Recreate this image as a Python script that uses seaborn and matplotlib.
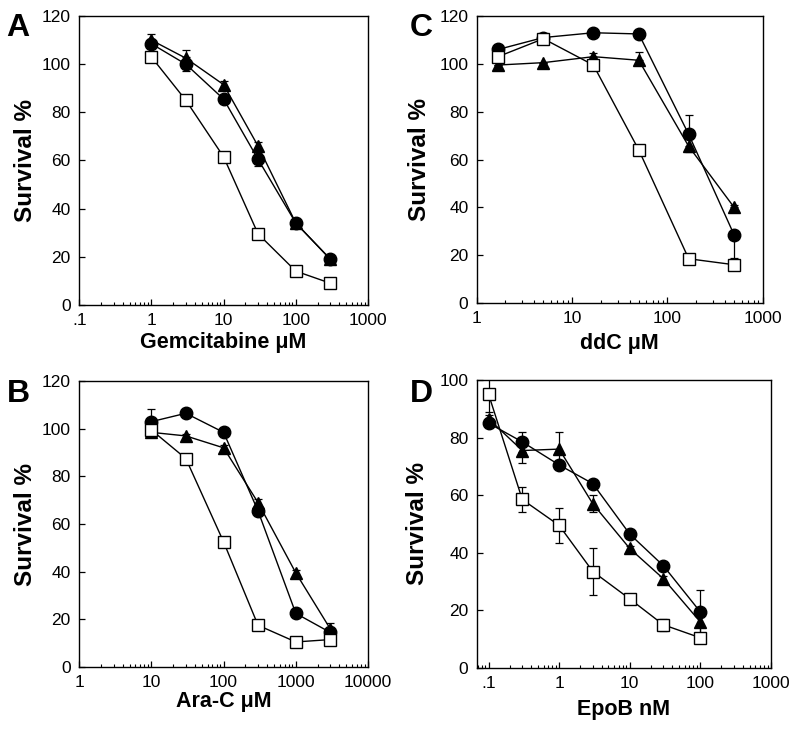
import numpy as np
import pandas as pd
import matplotlib
matplotlib.use("Agg")
import matplotlib.pyplot as plt
from matplotlib.ticker import FixedLocator, FixedFormatter, LogLocator, NullFormatter
import seaborn as sns

# ---- data ----
A_x = [1, 3, 10, 30, 100, 300]
A_sq = [103, 85, 61.5, 29.5, 14, 9]
A_ci = [108.5, 100, 85.5, 60.5, 34, 19]
A_tr = [110, 102.5, 91.5, 66, 34, 19]
A_sq_err = [1, 1, 1, 1, 1, 1]
A_ci_err = [1.5, 3, 1.5, 3, 1, 1]
A_tr_err = [2.5, 3.5, 1.5, 1.5, 1, 1]

B_x = [10, 30, 100, 300, 1000, 3000]
B_sq = [99.5, 87.5, 52.5, 17.5, 10.5, 11.5]
B_ci = [103, 106.5, 98.5, 65.5, 22.5, 14.5]
B_tr = [98.5, 97, 92, 69, 39.5, 16]
B_sq_err = [1, 1, 1, 1, 1, 2]
B_ci_err = [5.5, 1.5, 1, 1, 1, 1.5]
B_tr_err = [1, 1, 1, 1.5, 1, 2.5]

C_x = [1.67, 5, 16.7, 50, 167, 500]
C_sq = [103, 110.5, 99.5, 64, 18.5, 16]
C_ci = [106, 111, 113, 112.5, 70.5, 28.5]
C_tr = [99.5, 100.5, 103, 101.5, 65.5, 40]
C_sq_err = ([0, 0, 2, 0, 0, 0], [0, 0, 0, 0, 0, 0])
C_ci_err = ([0, 0, 0, 0, 0, 9.5], [2, 1, 1, 1, 8, 0])
C_tr_err = ([0, 0, 0, 0, 2.5, 0], [0, 0, 1.5, 3.5, 0, 1])

D_x = [0.1, 0.3, 1, 3, 10, 30, 100]
D_sq = [95, 58.5, 49.5, 33.5, 24, 15, 10.5]
D_ci = [85, 78.5, 70.5, 64, 46.5, 35.5, 19.5]
D_tr = [86.5, 75.5, 76, 57, 41.5, 31, 16]
D_sq_err = [6, 4.5, 6, 8, 1.5, 2, 1.5]
D_ci_err = [1.5, 3.5, 1, 1, 1, 1, 7.5]
D_tr_err = [1.5, 4.5, 6, 3, 1, 1, 4]

A_xticks = [0.1, 1, 10, 100, 1000]
A_xlabels = [".1", "1", "10", "100", "1000"]
B_xticks = [1, 10, 100, 1000, 10000]
B_xlabels = ["1", "10", "100", "1000", "10000"]
C_xticks = [1, 10, 100, 1000]
C_xlabels = ["1", "10", "100", "1000"]
D_xticks = [0.1, 1, 10, 100, 1000]
D_xlabels = [".1", "1", "10", "100", "1000"]

sns.set_style("ticks")
plt.rcParams["font.family"] = ["Liberation Sans", "DejaVu Sans"]
plt.rcParams["text.color"] = "black"
plt.rcParams["axes.labelcolor"] = "black"
plt.rcParams["xtick.color"] = "black"
plt.rcParams["ytick.color"] = "black"

fig = plt.figure(figsize=(8, 7.31), dpi=100)


def draw_panel(rect, letter, letter_pos, x, sq, ci, tr, errs, xlim, ylim,
               xticks, xlabels, xlabel, ylabel_x, xlabel_y):
    ax = fig.add_axes(rect)
    series = [(tr, errs[2], "^", "black", 8.5),
              (ci, errs[1], "o", "black", 9),
              (sq, errs[0], "s", "white", 8.5)]
    for y, e, m, fc, ms in series:
        ax.errorbar(x, y, yerr=np.array(e), fmt="none", ecolor="black",
                    elinewidth=0.9, capsize=3, capthick=0.9, zorder=2)
        df = pd.DataFrame({"conc": x, "surv": y})
        sns.lineplot(data=df, x="conc", y="surv", ax=ax, color="black",
                     linewidth=1.0, marker=m, markersize=ms,
                     markerfacecolor=fc, markeredgecolor="black",
                     markeredgewidth=1.0, zorder=3)
    ax.set_xscale("log")
    ax.set_xlim(*xlim)
    ax.set_ylim(*ylim)
    ax.xaxis.set_major_locator(FixedLocator(xticks))
    ax.xaxis.set_major_formatter(FixedFormatter(xlabels))
    ax.xaxis.set_minor_locator(LogLocator(base=10, subs=np.arange(2, 10), numticks=20))
    ax.xaxis.set_minor_formatter(NullFormatter())
    ax.set_yticks(np.arange(ylim[0], ylim[1] + 1, 20))
    ax.tick_params(axis="both", which="major", direction="in", length=4,
                   width=0.9, labelsize=12.5, pad=6, top=False, right=False)
    ax.tick_params(axis="x", which="minor", direction="in", length=2.5,
                   width=0.8, top=False)
    for s in ax.spines.values():
        s.set_linewidth(1.0)
        s.set_color("black")
    ax.set_xlabel(xlabel, fontsize=15.5, fontweight="bold")
    ax.set_ylabel("Survival %", fontsize=17.5, fontweight="bold")
    ax.xaxis.label.set_va("center")
    ax.yaxis.label.set_va("center")
    ax.xaxis.set_label_coords(0.5, xlabel_y)
    ax.yaxis.set_label_coords(ylabel_x, 0.5)
    fig.text(letter_pos[0], letter_pos[1], letter, fontsize=23,
             fontweight="bold", ha="left", va="top")
    return ax


draw_panel([0.099, 0.583, 0.361, 0.395], "A", (0.008, 0.982),
           A_x, A_sq, A_ci, A_tr, (A_sq_err, A_ci_err, A_tr_err),
           (0.1, 1000), (0, 120), A_xticks, A_xlabels, "Gemcitabine μM",
           -0.187, -0.13)
draw_panel([0.596, 0.5855, 0.3575, 0.3926], "C", (0.512, 0.982),
           C_x, C_sq, C_ci, C_tr, (C_sq_err, C_ci_err, C_tr_err),
           (1, 1000), (0, 120), C_xticks, C_xlabels, "ddC μM",
           -0.2, -0.14)
draw_panel([0.099, 0.0876, 0.361, 0.391], "B", (0.008, 0.482),
           B_x, B_sq, B_ci, B_tr, (B_sq_err, B_ci_err, B_tr_err),
           (1, 10000), (0, 120), B_xticks, B_xlabels, "Ara-C μM",
           -0.187, -0.12)
draw_panel([0.596, 0.0862, 0.3675, 0.394], "D", (0.512, 0.482),
           D_x, D_sq, D_ci, D_tr, (D_sq_err, D_ci_err, D_tr_err),
           (0.068, 1000), (0, 100), D_xticks, D_xlabels, "EpoB nM",
           -0.2, -0.145)

fig.savefig("out.png", dpi=100)
